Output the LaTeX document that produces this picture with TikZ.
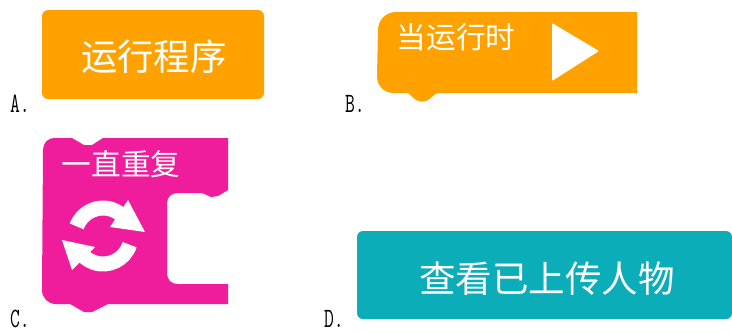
\documentclass[tikz,border=0pt]{standalone}
\usepackage{fontspec}
\newfontfamily\cjk{Noto Sans CJK SC}
\definecolor{blockorange}{HTML}{FFA200}
\definecolor{blockpink}{HTML}{EF1C9B}
\definecolor{blockteal}{HTML}{0BADB9}
\tikzset{
  x=1pt,y=-1pt,
  optlabel/.style={inner sep=0pt,anchor=base west,font=\ttfamily\fontsize{28}{28}\selectfont,xscale=.68,transform shape},
  btntext/.style={inner sep=0pt,text=white,font=\cjk\fontsize{36.5}{36.5}\selectfont},
  blocktext/.style={inner sep=0pt,text=white,font=\cjk\fontsize{29.7}{29.7}\selectfont},
}
\begin{document}
\begin{tikzpicture}
\useasboundingbox (0,0) rectangle (732,333);
% A
\fill[blockorange,rounded corners=6] (42,10) rectangle (264,99);
\node[btntext] (ta) at (154,57) {运行程序};
\node[optlabel] (la) at (10,112) {A.};
% B
\fill[blockorange] (396,12) -- (637,12) -- (637,93) -- (437,93) -- (428,100)
  .. controls (424,102) and (420,102) .. (416,100) -- (408,93) -- (394,93)
  .. controls (384,93) and (377,86) .. (377,76) -- (378,30)
  .. controls (378,20) and (386,12) .. (396,12) -- cycle;
\node[blocktext] (tb) at (456,37) {当运行时};
\fill[white,rounded corners=1] (552,23) -- (599,51) -- (552,81) -- cycle;
\node[optlabel] (lb) at (345,112) {B.};
% C
\fill[blockpink] (54,138) -- (72,138) -- (84,145) -- (92,145) -- (103,138) -- (228,138)
  -- (228,190) -- (218,196) -- (211,197) -- (202,193) -- (178,193)
  .. controls (171,193) and (167,197) .. (167,204) -- (167,272)
  .. controls (167,280) and (171,284) .. (178,284) -- (228,284)
  -- (228,304) -- (108,304) -- (92,312) -- (84,312) -- (70,304) -- (56,304)
  .. controls (48,304) and (42,298) .. (42,290) -- (43,150)
  .. controls (43,143) and (48,138) .. (54,138) -- cycle;
\node[blocktext] (tc) at (121,164) {一直重复};
% loop icon
\coordinate (ic) at (103,236);
\draw[white,line width=15] (ic) ++(200:28) arc[start angle=200,end angle=325,radius=28];
\fill[white] (128,200) -- (145,232) -- (110,227) -- cycle;
\draw[white,line width=15] (ic) ++(18:28) arc[start angle=18,end angle=150,radius=28];
\fill[white] (62,240) -- (95,247) -- (72,270) -- cycle;
\node[optlabel] (lc) at (10,327) {C.};
% D
\fill[blockteal,rounded corners=6] (357,231) rectangle (732,319);
\node[btntext] (td) at (547,279) {查看已上传人物};
\node[optlabel] (ld) at (324,327) {D.};
\end{tikzpicture}
\end{document}
